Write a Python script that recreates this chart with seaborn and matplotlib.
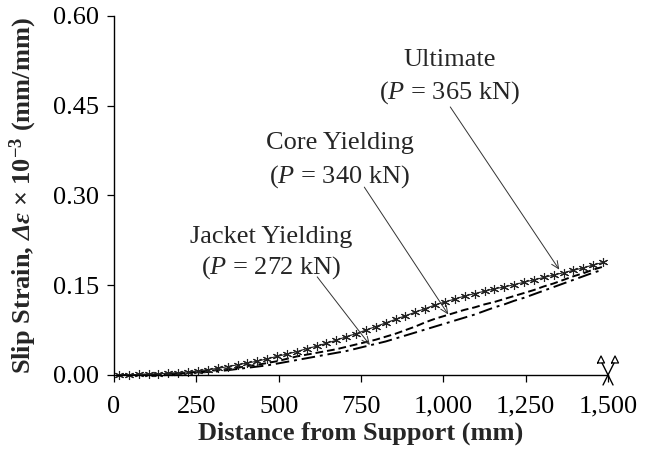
import matplotlib
matplotlib.use("Agg")
import numpy as np
import pandas as pd
import seaborn as sns
import matplotlib.pyplot as plt
from matplotlib.lines import Line2D
from matplotlib.transforms import IdentityTransform
from matplotlib.ticker import FuncFormatter, FixedLocator

# Distance from support (mm) at each gauge station
distance = [15, 45, 75, 105, 135, 165, 195, 225, 255, 285,
            315, 345, 375, 405, 435, 465, 495, 525, 555, 585,
            615, 645, 675, 705, 735, 765, 795, 825, 855, 885,
            915, 945, 975, 1005, 1035, 1065, 1095, 1125, 1155, 1185,
            1215, 1245, 1275, 1305, 1335, 1365, 1395, 1425, 1455, 1485]

# Slip strain (x 10^-3 mm/mm) at each load stage
ultimate = [0.000, 0.000, 0.001, 0.001, 0.002, 0.003, 0.004, 0.005, 0.007, 0.009,
            0.011, 0.014, 0.017, 0.020, 0.023, 0.027, 0.031, 0.035, 0.039, 0.044,
            0.048, 0.053, 0.058, 0.064, 0.069, 0.075, 0.081, 0.087, 0.093, 0.099,
            0.105, 0.111, 0.117, 0.122, 0.127, 0.132, 0.136, 0.140, 0.144, 0.147,
            0.151, 0.155, 0.159, 0.163, 0.167, 0.171, 0.175, 0.179, 0.184, 0.188]

core_yielding = [0.000, 0.000, 0.000, 0.001, 0.001, 0.002, 0.003, 0.004, 0.005, 0.007,
                 0.008, 0.010, 0.012, 0.015, 0.017, 0.020, 0.023, 0.027, 0.031, 0.034,
                 0.037, 0.040, 0.043, 0.047, 0.051, 0.055, 0.059, 0.064, 0.069, 0.075,
                 0.081, 0.088, 0.094, 0.099, 0.104, 0.109, 0.113, 0.118, 0.122, 0.127,
                 0.132, 0.137, 0.142, 0.148, 0.153, 0.159, 0.165, 0.170, 0.176, 0.181]

jacket_yielding = [0.000, 0.000, 0.000, 0.000, 0.001, 0.001, 0.002, 0.003, 0.004, 0.005,
                   0.006, 0.008, 0.010, 0.012, 0.014, 0.016, 0.019, 0.022, 0.025, 0.028,
                   0.031, 0.034, 0.037, 0.040, 0.044, 0.048, 0.052, 0.056, 0.061, 0.066,
                   0.071, 0.076, 0.081, 0.086, 0.091, 0.096, 0.101, 0.107, 0.113, 0.118,
                   0.124, 0.129, 0.135, 0.141, 0.147, 0.153, 0.159, 0.165, 0.171, 0.176]

x_ticks = [0, 250, 500, 750, 1000, 1250, 1500]
y_ticks = [0.00, 0.15, 0.30, 0.45, 0.60]

stage_labels = ["Jacket Yielding", "Core Yielding", "Ultimate"]
stage_loads = [272, 340, 365]

sns.set_theme(style="ticks")
plt.rcParams["font.family"] = ["Liberation Serif", "DejaVu Serif"]
plt.rcParams["mathtext.fontset"] = "custom"
plt.rcParams["mathtext.rm"] = "Liberation Serif"
plt.rcParams["mathtext.it"] = "Liberation Serif:italic"
plt.rcParams["mathtext.bf"] = "Liberation Serif:bold"
plt.rcParams["mathtext.bfit"] = "Liberation Serif:bold:italic"

df = pd.DataFrame({
    "distance": distance * 3,
    "strain": ultimate + core_yielding + jacket_yielding,
    "stage": ["Ultimate"] * len(distance) + ["Core Yielding"] * len(distance)
             + ["Jacket Yielding"] * len(distance),
})

fig = plt.figure(figsize=(6.54, 4.61), dpi=100)
ax = fig.add_axes([0.1743, 0.1866, 0.7554, 0.7787])

sns.lineplot(data=df[df.stage == "Jacket Yielding"], x="distance", y="strain",
             ax=ax, color="black", linewidth=1.4, clip_on=False)
ax.lines[-1].set_dashes([7, 2.5, 1.5, 2.5])
sns.lineplot(data=df[df.stage == "Core Yielding"], x="distance", y="strain",
             ax=ax, color="black", linewidth=1.4, clip_on=False)
ax.lines[-1].set_dashes([4, 2])
sns.lineplot(data=df[df.stage == "Ultimate"], x="distance", y="strain",
             ax=ax, color="#222222", linewidth=0.8, marker=(6, 2, 0),
             markersize=6.5, markeredgewidth=0.8, markeredgecolor="#222222",
             clip_on=False)

ax.set_xlim(0, 1500)
ax.set_ylim(0, 0.60)
ax.xaxis.set_major_locator(FixedLocator(x_ticks))
ax.yaxis.set_major_locator(FixedLocator(y_ticks))
ax.xaxis.set_major_formatter(FuncFormatter(lambda v, p: f"{v:,.0f}"))
ax.yaxis.set_major_formatter(FuncFormatter(lambda v, p: f"{v:.2f}"))
ax.tick_params(axis="both", direction="out", length=5, width=0.9,
               labelsize=19, color="black", labelcolor="black")
ax.tick_params(axis="y", pad=6)
ax.tick_params(axis="x", pad=10)
for side in ["top", "right"]:
    ax.spines[side].set_visible(False)
for side in ["left", "bottom"]:
    ax.spines[side].set_linewidth(1.0)
    ax.spines[side].set_color("black")

ax.set_xlabel("Distance from Support (mm)", fontsize=19, fontweight="bold",
              labelpad=3)
ax.set_ylabel(r"Slip Strain, $\mathbfit{\Delta\varepsilon}$ × 10$^{\mathbf{-3}}$ (mm/mm)",
              fontsize=19, fontweight="bold", labelpad=10)

# Load-stage callouts: (label centre x, first line y, second line y, arrow start, arrow end)
callouts = [
    (477, 0.231, 0.179, (617, 0.164), (777, 0.050)),
    (686, 0.388, 0.331, (760, 0.314), (1015, 0.101)),
    (1020, 0.527, 0.472, (1021, 0.448), (1352, 0.176)),
]
for label, load, (cx, y1, y2, start, end) in zip(stage_labels, stage_loads, callouts):
    ax.text(cx, y1, label, ha="center", va="center", fontsize=19)
    ax.text(cx, y2, rf"($P$ = {load} kN)", ha="center", va="center", fontsize=19)
    ax.annotate("", xy=end, xytext=start,
                arrowprops=dict(arrowstyle="->,head_length=0.45,head_width=0.2",
                                color="#333333", lw=0.7, shrinkA=0, shrinkB=0))

# Symmetry (mid-span) cut symbol on the axis at the end of the span
fig.canvas.draw()
bx, by = ax.transData.transform((x_ticks[-1], 0))
arms = [((-6, 12), (5, -10)), ((6, 12), (-5, -10))]
for (x0, y0), (x1, y1) in arms:
    fig.add_artist(Line2D([bx + x0, bx + x1], [by + y0, by + y1],
                          transform=IdentityTransform(), color="black", lw=1.0))
for sx in (-7, 7):
    tx = [bx + sx - 3.5, bx + sx, bx + sx + 3.5, bx + sx - 3.5]
    ty = [by + 12, by + 19, by + 12, by + 12]
    fig.add_artist(Line2D(tx, ty, transform=IdentityTransform(),
                          color="black", lw=0.9))

fig.savefig("out.png", dpi=100)
